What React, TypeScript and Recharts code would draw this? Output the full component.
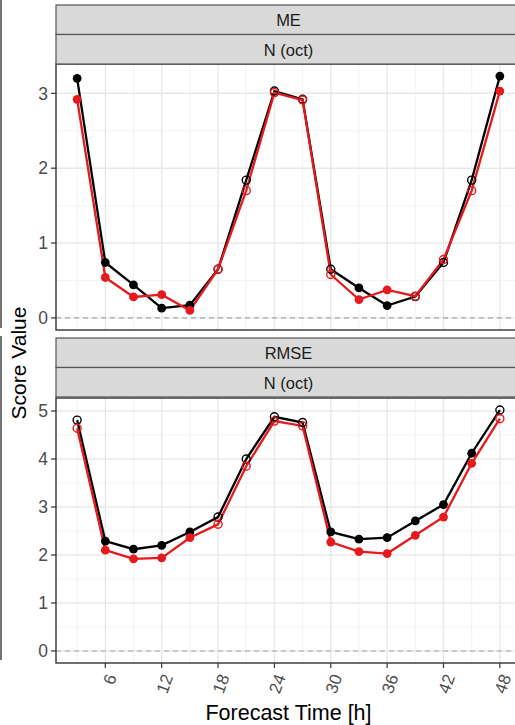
import React from 'react';
import { LineChart, Line, XAxis, YAxis, ReferenceLine } from 'recharts';

// ---- data ----
const hours = [3, 6, 9, 12, 15, 18, 21, 24, 27, 30, 33, 36, 39, 42, 45, 48];

const meBlack = [3.2, 0.74, 0.44, 0.13, 0.17, 0.65, 1.84, 3.03, 2.92, 0.65, 0.4, 0.165, 0.285, 0.74, 1.84, 3.23];
const meRed = [2.92, 0.54, 0.28, 0.31, 0.1, 0.65, 1.7, 3.01, 2.91, 0.58, 0.245, 0.375, 0.29, 0.78, 1.7, 3.03];
const meFilled = [1, 1, 1, 1, 1, 0, 0, 0, 0, 0, 1, 1, 0, 0, 0, 1];

const rmseBlack = [4.81, 2.29, 2.12, 2.2, 2.48, 2.79, 4.0, 4.88, 4.76, 2.48, 2.33, 2.36, 2.71, 3.05, 4.12, 5.02];
const rmseRed = [4.64, 2.1, 1.92, 1.94, 2.36, 2.64, 3.85, 4.79, 4.69, 2.27, 2.07, 2.03, 2.41, 2.79, 3.91, 4.84];
const rmseFilled = [0, 1, 1, 1, 1, 0, 0, 0, 0, 1, 1, 1, 1, 1, 1, 0];

const xTicks = [6, 12, 18, 24, 30, 36, 42, 48];
const xMinor = [3, 9, 15, 21, 27, 33, 39, 45];
const meTicks = [0, 1, 2, 3];
const meMinor = [0.5, 1.5, 2.5];
const rmseTicks = [0, 1, 2, 3, 4, 5];
const rmseMinor = [0.5, 1.5, 2.5, 3.5, 4.5];

const topStrips = ['ME', 'N (oct)'];
const bottomStrips = ['RMSE', 'N (oct)'];

const rows = hours.map((h, i) => ({
  h,
  meB: meBlack[i],
  meR: meRed[i],
  meF: meFilled[i],
  rmB: rmseBlack[i],
  rmR: rmseRed[i],
  rmF: rmseFilled[i],
}));

const BLACK = '#000000';
const RED = '#E41A1C';
const FONT = '"Liberation Sans", Arial, Helvetica, sans-serif';

const mkDot = (color: string, flagKey: string, tag: string) => (props: any) => {
  const { cx, cy, payload, index } = props;
  if (cx == null || cy == null) return <g key={`${tag}-${index}`} />;
  const filled = payload[flagKey] === 1;
  return (
    <circle
      key={`${tag}-${index}`}
      cx={cx}
      cy={cy}
      r={filled ? 4.4 : 4}
      fill={filled ? color : 'none'}
      stroke={color}
      strokeWidth={filled ? 0 : 1.4}
    />
  );
};

const XTick = (props: any) => {
  const { x, y, payload } = props;
  const ax = x + 6.5;
  const ay = y + 5;
  return (
    <text
      x={ax}
      y={ay}
      transform={`rotate(-70 ${ax} ${ay})`}
      textAnchor="end"
      dominantBaseline="central"
      fill="#4D4D4D"
      fontSize={17}
      fontFamily={FONT}
    >
      {payload.value}
    </text>
  );
};

const gridLines = (xs: number[], ys: number[], major: boolean, pre: string) => {
  const stroke = major ? '#E8E8E8' : '#F0F0F0';
  const sw = major ? 1.4 : 0.9;
  return [
    ...xs.map((v) => (
      <ReferenceLine key={`${pre}x${v}`} x={v} stroke={stroke} strokeWidth={sw} />
    )),
    ...ys.map((v) => (
      <ReferenceLine key={`${pre}y${v}`} y={v} stroke={stroke} strokeWidth={sw} />
    )),
  ];
};

const PL = 56;
const PR = 521;
const top1 = 64, bot1 = 330;
const top2 = 398, bot2 = 663;

const Strip = ({ y, label }: { y: number; label: string }) => (
  <g>
    <rect x={PL} y={y} width={PR - PL} height={29.5} fill="#D9D9D9" stroke="#555555" strokeWidth={1.2} />
    <text
      x={(PL + PR) / 2}
      y={y + 15}
      textAnchor="middle"
      dominantBaseline="central"
      fontSize={16.5}
      fill="#1A1A1A"
      fontFamily={FONT}
    >
      {label}
    </text>
  </g>
);

export default function App() {
  return (
    <div
      style={{
        position: 'absolute',
        left: 0,
        top: 0,
        width: 515,
        height: 725,
        overflow: 'hidden',
        background: '#ffffff',
        fontFamily: FONT,
      }}
    >
      <div style={{ position: 'absolute', left: 0, top: 0 }}>
        <LineChart width={525} height={725} data={rows} margin={{ top: top1, right: 525 - PR, bottom: 725 - bot1, left: 0 }}>
          <XAxis dataKey="h" type="number" domain={[0.75, 50.25]} ticks={xTicks} hide />
          <YAxis
            type="number"
            domain={[-0.1615, 3.3915]}
            ticks={meTicks}
            width={PL}
            tickSize={5}
            tickMargin={3}
            axisLine={false}
            tickLine={{ stroke: '#333333', strokeWidth: 1.2 }}
            tick={{ fill: '#4D4D4D', fontSize: 17.5, fontFamily: FONT }}
            allowDataOverflow
          />
          {gridLines(xMinor, meMinor, false, 'm1')}
          {gridLines(xTicks, meTicks, true, 'M1')}
          <ReferenceLine y={0} stroke="#A6A6A6" strokeWidth={1.1} strokeDasharray="5 4" />
          <Line dataKey="meB" stroke={BLACK} strokeWidth={2.3} dot={mkDot(BLACK, 'meF', 'b1')} isAnimationActive={false} />
          <Line dataKey="meR" stroke={RED} strokeWidth={2.3} dot={mkDot(RED, 'meF', 'r1')} isAnimationActive={false} />
        </LineChart>
      </div>
      <div style={{ position: 'absolute', left: 0, top: 0 }}>
        <LineChart width={525} height={725} data={rows} margin={{ top: top2, right: 525 - PR, bottom: 0, left: 0 }}>
          <XAxis
            dataKey="h"
            type="number"
            domain={[0.75, 50.25]}
            ticks={xTicks}
            height={725 - bot2}
            tickSize={5}
            tickMargin={2}
            axisLine={false}
            tickLine={{ stroke: '#333333', strokeWidth: 1.2 }}
            tick={<XTick />}
            allowDataOverflow
          />
          <YAxis
            type="number"
            domain={[-0.251, 5.271]}
            ticks={rmseTicks}
            width={PL}
            tickSize={5}
            tickMargin={3}
            axisLine={false}
            tickLine={{ stroke: '#333333', strokeWidth: 1.2 }}
            tick={{ fill: '#4D4D4D', fontSize: 17.5, fontFamily: FONT }}
            allowDataOverflow
          />
          {gridLines(xMinor, rmseMinor, false, 'm2')}
          {gridLines(xTicks, rmseTicks, true, 'M2')}
          <ReferenceLine y={0} stroke="#A6A6A6" strokeWidth={1.1} strokeDasharray="5 4" />
          <Line dataKey="rmB" stroke={BLACK} strokeWidth={2.3} dot={mkDot(BLACK, 'rmF', 'b2')} isAnimationActive={false} />
          <Line dataKey="rmR" stroke={RED} strokeWidth={2.3} dot={mkDot(RED, 'rmF', 'r2')} isAnimationActive={false} />
        </LineChart>
      </div>
      <svg
        width={515}
        height={725}
        style={{ position: 'absolute', left: 0, top: 0, pointerEvents: 'none' }}
      >
        <line x1={1} y1={0} x2={1} y2={328} stroke="#444444" strokeWidth={1.5} />
        <line x1={1} y1={336} x2={1} y2={660} stroke="#444444" strokeWidth={1.5} />
        <rect x={PL} y={top1} width={PR - PL} height={bot1 - top1} fill="none" stroke="#333333" strokeWidth={1.4} />
        <rect x={PL} y={top2} width={PR - PL} height={bot2 - top2} fill="none" stroke="#333333" strokeWidth={1.4} />
        <Strip y={5} label={topStrips[0]} />
        <Strip y={34.5} label={topStrips[1]} />
        <Strip y={338} label={bottomStrips[0]} />
        <Strip y={367.5} label={bottomStrips[1]} />
        <text
          x={18}
          y={363}
          transform="rotate(-90 18 363)"
          textAnchor="middle"
          dominantBaseline="central"
          fontSize={21}
          fill="#000000"
          fontFamily={FONT}
        >
          Score Value
        </text>
        <text x={288.5} y={720} textAnchor="middle" fontSize={21.5} fill="#000000" fontFamily={FONT}>
          Forecast Time [h]
        </text>
      </svg>
    </div>
  );
}
